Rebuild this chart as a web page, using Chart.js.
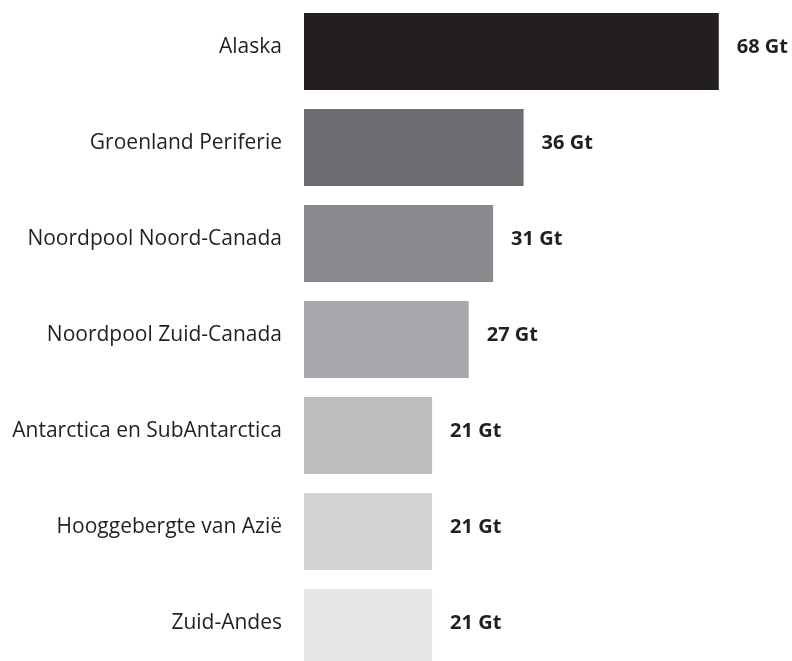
<!DOCTYPE html>
<html>
<head>
<meta charset="utf-8">
<script src="https://cdn.jsdelivr.net/npm/chart.js@4/dist/chart.umd.min.js"></script>
<style>
  html, body { margin: 0; padding: 0; background: #fff; overflow: hidden; }
  #wrap { width: 792px; height: 680px; position: relative; }
</style>
</head>
<body>
<div id="wrap"><canvas id="bar-ice"></canvas></div>
<script>
const regions = ["Alaska", "Groenland Periferie", "Noordpool Noord-Canada", "Noordpool Zuid-Canada", "Antarctica en SubAntarctica", "Hooggebergte van Azië", "Zuid-Andes"];
const massLoss = [68, 36, 31, 27, 21, 21, 21];
const valueLabels = ["68 Gt", "36 Gt", "31 Gt", "27 Gt", "21 Gt", "21 Gt", "21 Gt"];
const greys = ["#231f20", "#6d6e71", "#898a8d", "#a7a9ac", "#bcbec0", "#d1d3d4", "#e6e7e8"];

// namen links en waarde rechts naast elke balk
const labelPlugin = {
    id: 'barLabels',
    afterDatasetsDraw(chart) {
        const ctx = chart.ctx
        const meta = chart.getDatasetMeta(0)
        const yScale = chart.scales.y
        ctx.save()
        ctx.fillStyle = '#231f20'
        ctx.textBaseline = 'middle'
        meta.data.forEach((bar, i) => {
            const y = yScale.getPixelForValue(i) - 4
            ctx.font = '21px "Open Sans"'
            ctx.textAlign = 'right'
            ctx.fillText(regions[i], chart.chartArea.left - 22, y)
            ctx.font = 'bold 20px "Open Sans"'
            ctx.textAlign = 'left'
            ctx.fillText(valueLabels[i], bar.x + 18, y)
        })
        ctx.restore()
    }
}

new Chart(document.getElementById('bar-ice'), {
    type: 'bar',
    data: {
        labels: regions,
        datasets: [
            {
                data: massLoss,
                backgroundColor: greys,
                barPercentage: 0.8,
                categoryPercentage: 1
            }
        ]
    },
    options: {
        indexAxis: 'y',
        responsive: true,
        maintainAspectRatio: false,
        animation: false,
        layout: {padding: {top: 3.5, bottom: 4.5, left: 304, right: 0}},
        plugins: {
            legend: {display: false},
            tooltip: {enabled: false}
        },
        scales: {
            x: {display: false, min: 0, max: 80},
            y: {display: false}
        }
    },
    plugins: [labelPlugin]
});
</script>
</body>
</html>
